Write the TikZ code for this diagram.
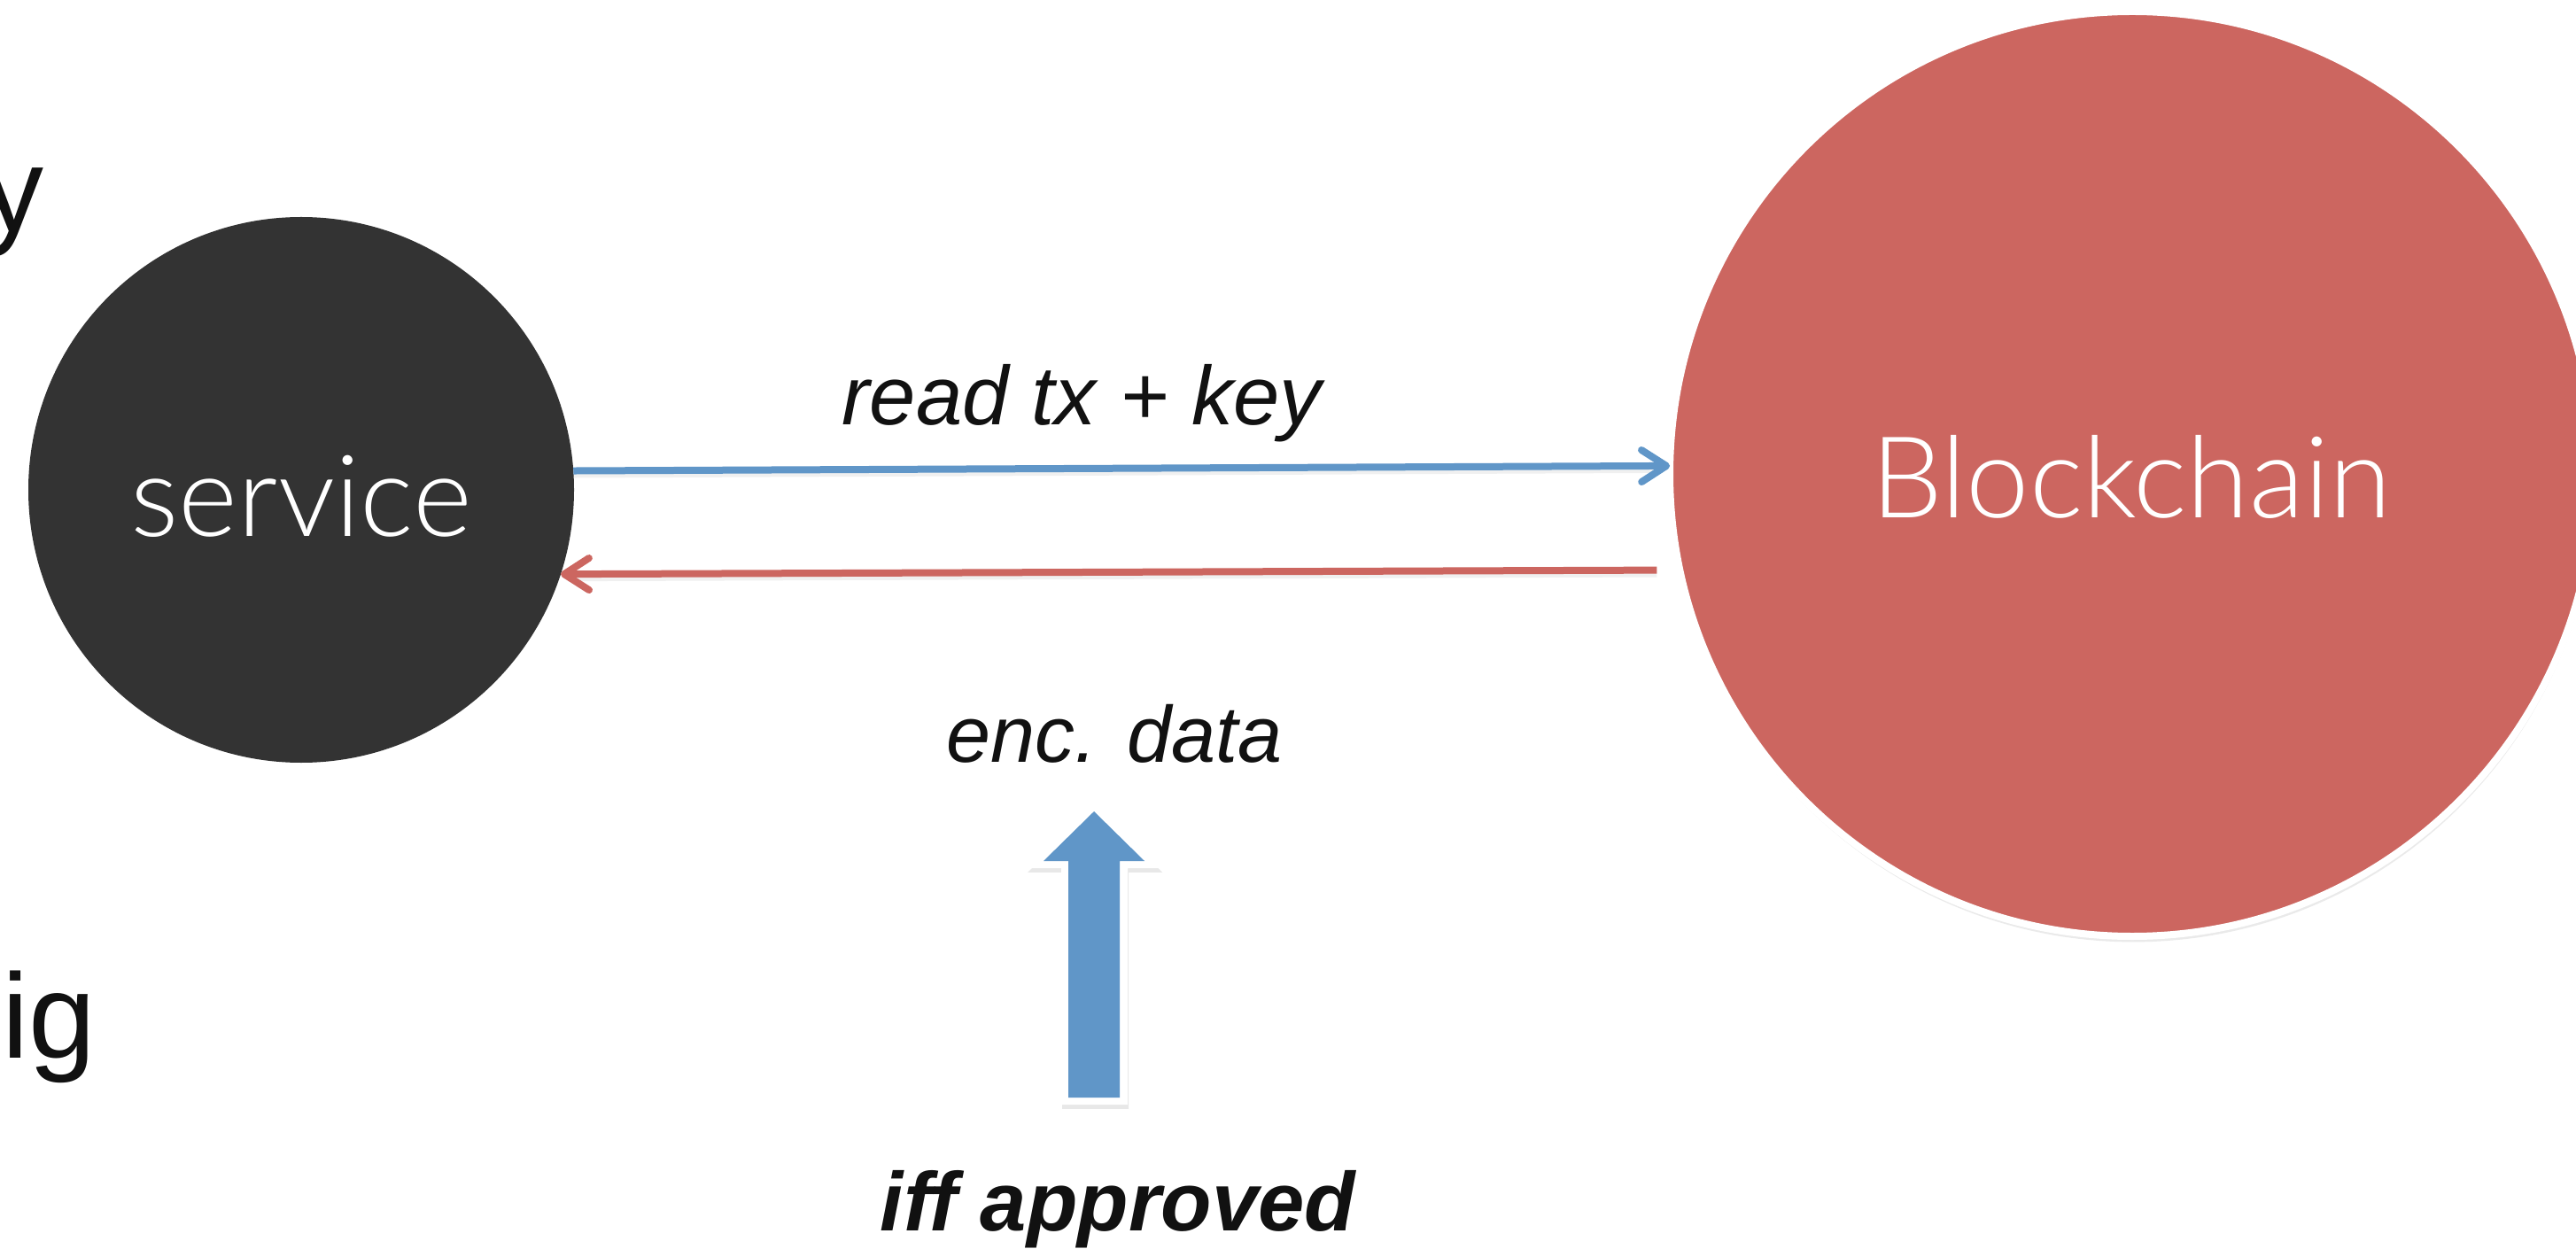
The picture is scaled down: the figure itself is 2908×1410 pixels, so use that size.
\documentclass[tikz,border=0pt]{standalone}
\usepackage{fontspec}
\setmainfont{Liberation Sans}
\newfontfamily\thinfont{Lato Light}
\usetikzlibrary{arrows.meta,shadows,calc}
\definecolor{svcgray}{HTML}{333333}
\definecolor{chainred}{HTML}{CC6660}
\definecolor{flowblue}{HTML}{6096C8}
\definecolor{inkblack}{HTML}{111111}
\begin{document}
\begin{tikzpicture}[x=0.25pt,y=-0.25pt,
  bubble/.style={circle,inner sep=0pt,outer sep=0pt},
  bubbletext/.style={text=white,font=\thinfont\fontsize{32}{38}\selectfont,inner sep=0pt,anchor=base},
  flowlabel/.style={text=inkblack,font=\itshape\fontsize{23.5}{28}\selectfont,inner sep=0pt,anchor=base},
  boldlabel/.style={text=inkblack,font=\bfseries\itshape\fontsize{23.5}{28}\selectfont,inner sep=0pt,anchor=base},
  flow/.style={line width=2pt,-{Straight Barb[length=7pt,width=9pt,round]}},
  flowshade/.style={line width=2pt,black,opacity=0.06},
  cutword/.style={text=inkblack,font=\fontsize{34}{40}\selectfont,inner sep=0pt,anchor=base west}
]
\useasboundingbox (0,0) rectangle (2908,1410);
\fill[white] (0,0) rectangle (2908,1410);

% the two parties
\node[bubble,fill=svcgray,minimum size=154pt] (svc) at (340,553) {};
\node[bubble,fill=chainred,draw=white,line width=2pt,minimum size=261pt,
      drop shadow={opacity=0.16,shadow xshift=0.3pt,shadow yshift=-1.6pt}] (bc) at (2407,535) {};
\node[bubbletext] (svctext) at (340,606) {service};
\node[bubbletext] (bctext) at (2406,585) {Blockchain};

% request and reply
\draw[flowshade] ($(svc.4.3)+(0,4)$) -- ($(bc.179.5)+(-8,4)$);
\draw[flowshade] ($(bc.192.5)+(-26,4)$) -- ($(svc.-18)+(8,4)$);
\draw[flow,flowblue] (svc.4.3) -- (bc.179.5);
\draw[flow,chainred,shorten <=6.5pt] (bc.192.5) -- (svc.-18);

\node[flowlabel] (readlbl) at (1221,480) {read tx + key};
\node[flowlabel,font=\itshape\fontsize{22.5}{27}\selectfont] (enclbl) at (1258,860) {enc. data};

% condition arrow
\fill[white,drop shadow={opacity=0.18,shadow xshift=0.3pt,shadow yshift=-1.2pt}]
  (1235,905) -- (1311,980) -- (1273,980) -- (1273,1247) -- (1198,1247) -- (1198,980) -- (1159,980) -- cycle;
\fill[flowblue]
  (1235,916) -- (1292,972) -- (1264,972) -- (1264,1239) -- (1206,1239) -- (1206,972) -- (1178,972) -- cycle;
\node[boldlabel] (ifflbl) at (1262,1389) {iff approved};

% words running in from the left edge
\node[cutword] (ylet) at (-19,262) {y};
\node[cutword] (iglet) at (2,1194) {ig};
\end{tikzpicture}
\end{document}
